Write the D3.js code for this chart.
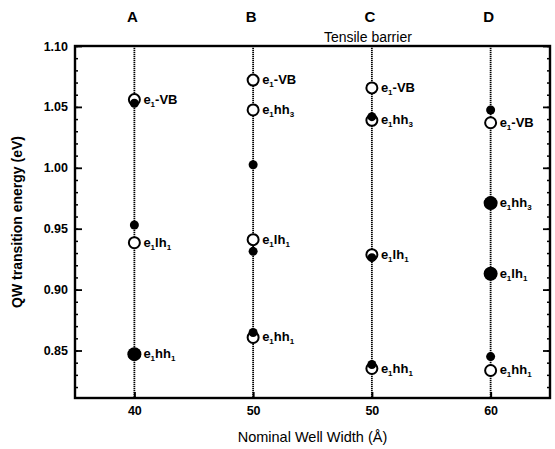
<!DOCTYPE html>
<html>
<head>
<meta charset="utf-8">
<script src="https://cdn.jsdelivr.net/npm/d3@7"></script>
<style>
  body { margin: 0; background: #fff; }
  text { font-family: "Liberation Sans", Arial, sans-serif; fill: #000; }
</style>
</head>
<body>
<svg id="chart"></svg>
<script>
// Columns (samples) and their nominal well widths
const columns = ["A", "B", "C", "D"];
const wellWidths = ["40", "50", "50", "60"];

// Calculated transitions (open circles), per column
const calcEnergies = [
  [1.056, 0.9385, 0.847],
  [1.072, 1.0475, 0.941, 0.8607],
  [1.0656, 1.039, 0.9287, 0.8352],
  [1.037, 0.971, 0.913, 0.8336]
];
const calcLabels = [
  ["VB", "lh", "hh1"],
  ["VB", "hh3", "lh", "hh1"],
  ["VB", "hh3", "lh", "hh1"],
  ["VB", "hh3", "lh", "hh1"]
];

// Measured transitions (filled circles), per column
const expEnergies = [
  [1.053, 0.953, 0.847],
  [1.0025, 0.9314, 0.8648],
  [1.042, 0.9262, 0.8385],
  [1.0475, 0.971, 0.913, 0.845]
];

const yTicks = [0.85, 0.90, 0.95, 1.00, 1.05, 1.10];

const width = 555, height = 449;
const margin = {top: 46, bottom: 51, left: 75, right: 5};

const svg = d3.select("#chart")
  .attr("width", width)
  .attr("height", height);

const x = d3.scalePoint()
  .domain(columns)
  .range([margin.left, width - margin.right])
  .padding(0.5);

const y = d3.scaleLinear()
  .domain([0.811, 1.10])
  .range([height - margin.bottom, margin.top]);

// dotted column lines
svg.selectAll(".col-line")
  .data(columns)
  .enter().append("line")
  .attr("x1", d => x(d)).attr("x2", d => x(d))
  .attr("y1", margin.top).attr("y2", height - margin.bottom)
  .attr("stroke", "#000")
  .attr("stroke-width", 1.8)
  .attr("stroke-dasharray", "1.2,0.8");

// left axis, inward ticks
const minorTicks = d3.range(82, 111).map(v => v / 100);
svg.append("g")
  .attr("transform", `translate(${margin.left},0)`)
  .call(d3.axisLeft(y).tickValues(minorTicks).tickSize(-3).tickFormat(""))
  .call(g => g.select(".domain").remove())
  .call(g => g.selectAll("line").attr("stroke-width", 1.5));

svg.append("g")
  .attr("transform", `translate(${margin.left},0)`)
  .call(d3.axisLeft(y).tickValues(yTicks).tickSize(-7).tickPadding(7).tickFormat(d3.format(".2f")))
  .call(g => g.select(".domain").remove())
  .call(g => g.selectAll("line").attr("stroke-width", 1.8))
  .call(g => g.selectAll("text").style("font-size", "12.5px").style("font-weight", "bold"));

// right axis, inward ticks
svg.append("g")
  .attr("transform", `translate(${width - margin.right},0)`)
  .call(d3.axisRight(y).tickValues(minorTicks).tickSize(-3).tickFormat(""))
  .call(g => g.select(".domain").remove())
  .call(g => g.selectAll("line").attr("stroke-width", 1.5));

svg.append("g")
  .attr("transform", `translate(${width - margin.right},0)`)
  .call(d3.axisRight(y).tickValues(yTicks).tickSize(-7).tickFormat(""))
  .call(g => g.select(".domain").remove())
  .call(g => g.selectAll("line").attr("stroke-width", 1.8));

// bottom axis
svg.append("g")
  .attr("transform", `translate(0,${height - margin.bottom})`)
  .call(d3.axisBottom(x).tickSize(-6).tickPadding(8).tickFormat((d, i) => wellWidths[i]))
  .call(g => g.select(".domain").remove())
  .call(g => g.selectAll("line").attr("stroke-width", 2))
  .call(g => g.selectAll("text").style("font-size", "12.5px").style("font-weight", "bold"));

// frame
svg.append("rect")
  .attr("x", margin.left).attr("y", margin.top)
  .attr("width", width - margin.left - margin.right)
  .attr("height", height - margin.top - margin.bottom)
  .attr("fill", "none")
  .attr("stroke", "#000")
  .attr("stroke-width", 2.4);

// open circles (calculated)
columns.forEach((c, i) => {
  calcEnergies[i].forEach(e => {
    svg.append("circle")
      .attr("cx", x(c)).attr("cy", y(e)).attr("r", 5.5)
      .attr("fill", "#fff").attr("stroke", "#000").attr("stroke-width", 2);
  });
});

// filled circles (measured); larger where they sit on a calculated point
columns.forEach((c, i) => {
  expEnergies[i].forEach(e => {
    const onTop = calcEnergies[i].some(v => Math.abs(v - e) < 0.0005);
    svg.append("circle")
      .attr("cx", x(c)).attr("cy", y(e)).attr("r", onTop ? 7 : 4.5)
      .attr("fill", "#000");
  });
});

// transition labels e1-VB, e1hh3, e1lh1, e1hh1
function addLabel(cx, cy, key) {
  const t = svg.append("text")
    .attr("x", cx + 9).attr("y", cy + 4)
    .style("font-size", "13px").style("font-weight", "bold");
  t.append("tspan").text("e");
  t.append("tspan").attr("dy", 3).style("font-size", "8px").text("1");
  if (key === "VB") {
    t.append("tspan").attr("dy", -3).text("-VB");
  } else {
    const base = key === "lh" ? "lh" : "hh";
    const sub = key === "hh3" ? "3" : "1";
    t.append("tspan").attr("dy", -3).text(base);
    t.append("tspan").attr("dy", 3).style("font-size", "8px").text(sub);
  }
}
columns.forEach((c, i) => {
  calcEnergies[i].forEach((e, j) => addLabel(x(c), y(e), calcLabels[i][j]));
});

// column letters
svg.selectAll(".col-label")
  .data(columns)
  .enter().append("text")
  .attr("x", d => x(d) - 2)
  .attr("y", 22)
  .attr("text-anchor", "middle")
  .style("font-size", "15px").style("font-weight", "bold")
  .text(d => d);

svg.append("text")
  .attr("x", x("C") - 4)
  .attr("y", 42)
  .attr("text-anchor", "middle")
  .style("font-size", "14px")
  .text("Tensile barrier");

// axis titles
svg.append("text")
  .attr("x", (margin.left + width - margin.right) / 2)
  .attr("y", 442)
  .attr("text-anchor", "middle")
  .style("font-size", "14.5px")
  .text("Nominal Well Width (Å)");

svg.append("text")
  .attr("transform", "rotate(-90)")
  .attr("x", -(margin.top + height - margin.bottom) / 2)
  .attr("y", 22)
  .attr("text-anchor", "middle")
  .style("font-size", "14px").style("font-weight", "bold")
  .text("QW transition energy (eV)");
</script>
</body>
</html>
